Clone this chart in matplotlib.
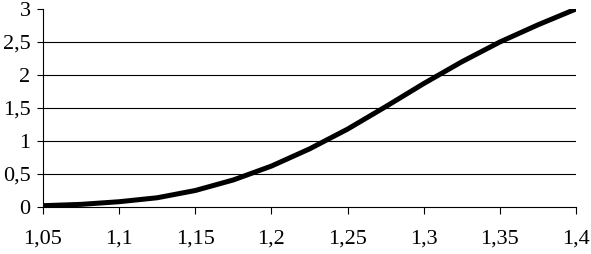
import matplotlib
matplotlib.use("Agg")
import matplotlib.pyplot as plt
from matplotlib.ticker import FuncFormatter

# values
x_vals = [1.05, 1.075, 1.1, 1.125, 1.15, 1.175, 1.2, 1.225, 1.25, 1.275, 1.3, 1.325, 1.35, 1.375, 1.4]
y_vals = [0.02, 0.04, 0.08, 0.14, 0.25, 0.41, 0.62, 0.88, 1.18, 1.52, 1.87, 2.20, 2.50, 2.76, 3.0]

x_ticks = [1.05, 1.1, 1.15, 1.2, 1.25, 1.3, 1.35, 1.4]
y_ticks = [0, 0.5, 1, 1.5, 2, 2.5, 3]

plt.rcParams["font.family"] = ["Liberation Serif", "DejaVu Serif"]
plt.rcParams["font.size"] = 16

fig = plt.figure(figsize=(5.91, 2.54), dpi=100)
ax = fig.add_axes([43 / 591, 1 - 207 / 254, (576 - 43) / 591, (207 - 9) / 254])

# horizontal grid lines (no line at the top value)
for yv in y_ticks[1:-1]:
    ax.axhline(yv, color="black", linewidth=0.8, zorder=1)

ax.plot(x_vals, y_vals, color="black", linewidth=3.6, solid_capstyle="butt",
        solid_joinstyle="round", zorder=3)

ax.set_xlim(1.05, 1.4)
ax.set_ylim(0, 3)
ax.set_xticks(x_ticks)
ax.set_yticks(y_ticks)


def comma(v, pos):
    s = f"{v:.2f}".rstrip("0").rstrip(".")
    return s.replace(".", ",")


ax.xaxis.set_major_formatter(FuncFormatter(comma))
ax.yaxis.set_major_formatter(FuncFormatter(comma))

for side in ["top", "right"]:
    ax.spines[side].set_visible(False)
for side in ["left", "bottom"]:
    ax.spines[side].set_linewidth(0.8)
    ax.spines[side].set_color("black")

ax.tick_params(axis="x", direction="out", length=5, width=0.8, pad=11)
ax.tick_params(axis="y", direction="out", length=4, width=0.8, pad=5)

fig.savefig("out.png", dpi=100)
